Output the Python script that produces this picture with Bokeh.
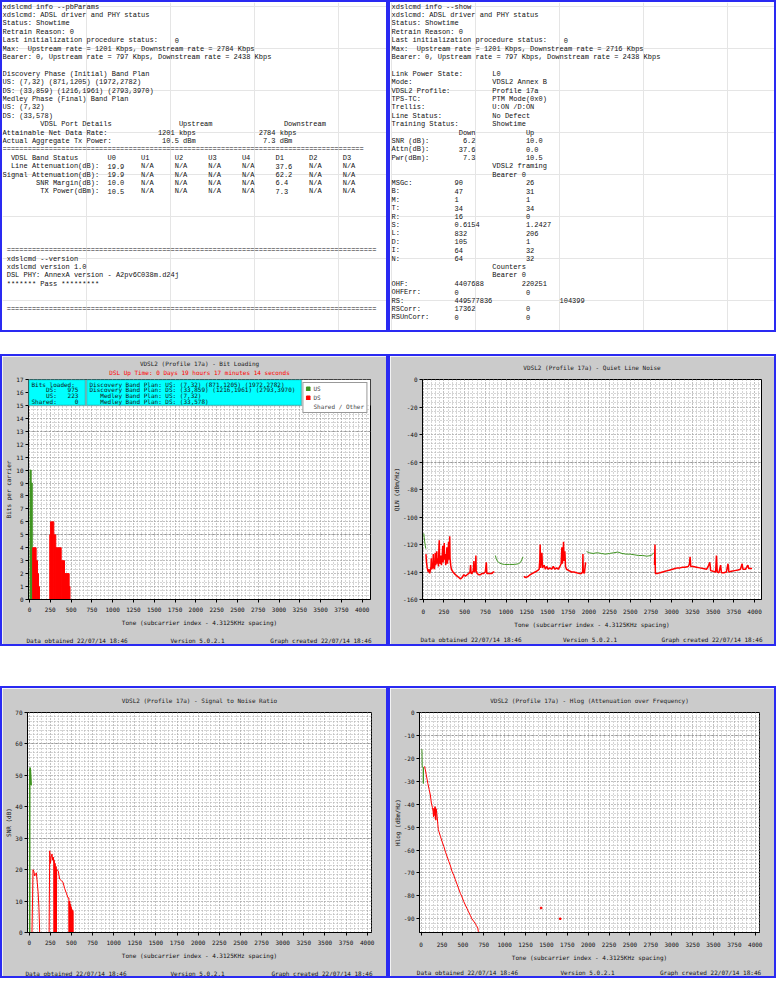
import re
from bokeh.plotting import figure
from bokeh.models import (Range1d, SingleIntervalTicker, PrintfTickFormatter, Legend, Title,
                          LegendItem, BoxAnnotation, Grid, FixedTicker, Spacer, LinearAxis, Label)
from bokeh.layouts import column, row
from bokeh.embed import file_html
from bokeh.resources import INLINE
from bokeh.core.properties import value

NaN = float("nan")
MONO = "DejaVu Sans Mono"
TMONO = "Liberation Mono"
GRAY = "#cbcbcb"
BLUE = "#2a2af2"
RED = "#ff0000"
GREEN = "#3f9420"
GRIDC = "#aaaaaa"
MCW = 3.61


def at(*pairs):
    s = ""
    for col, txt in pairs:
        s = s.ljust(col) + txt
    return s


# ---------------- text panels ----------------
pb_lines = [
    "xdslcmd info --pbParams",
    "xdslcmd: ADSL driver and PHY status",
    "Status: Showtime",
    "Retrain Reason: 0",
    "Last initialization procedure status:    0",
    "Max:  Upstream rate = 1201 Kbps, Downstream rate = 2784 Kbps",
    "Bearer: 0, Upstream rate = 797 Kbps, Downstream rate = 2438 Kbps",
    "",
    "Discovery Phase (Initial) Band Plan",
    "US: (7,32) (871,1205) (1972,2782)",
    "DS: (33,859) (1216,1961) (2793,3970)",
    "Medley Phase (Final) Band Plan",
    "US: (7,32)",
    "DS: (33,578)",
    at((9, "VDSL Port Details"), (42, "Upstream"), (67, "Downstream")),
    at((0, "Attainable Net Data Rate:"), (37, "1201 kbps"), (61, "2784 kbps")),
    at((0, "Actual Aggregate Tx Power:"), (38, "10.5 dBm"), (62, "7.3 dBm")),
    "=" * 86,
    at((2, "VDSL Band Status"), (25, "U0"), (33, "U1"), (41, "U2"), (49, "U3"), (57, "U4"),
       (65, "D1"), (73, "D2"), (81, "D3")),
    at((2, "Line Attenuation(dB):"), (25, "19.9"), (33, "N/A"), (41, "N/A"), (49, "N/A"),
       (57, "N/A"), (65, "37.6"), (73, "N/A"), (81, "N/A")),
    at((0, "Signal Attenuation(dB):"), (25, "19.9"), (33, "N/A"), (41, "N/A"), (49, "N/A"),
       (57, "N/A"), (65, "62.2"), (73, "N/A"), (81, "N/A")),
    at((8, "SNR Margin(dB):"), (25, "10.0"), (33, "N/A"), (41, "N/A"), (49, "N/A"),
       (57, "N/A"), (65, "6.4"), (73, "N/A"), (81, "N/A")),
    at((9, "TX Power(dBm):"), (25, "10.5"), (33, "N/A"), (41, "N/A"), (49, "N/A"),
       (57, "N/A"), (65, "7.3"), (73, "N/A"), (81, "N/A")),
    "", "", "", "", "", "",
    at((1, "=" * 88)),
    at((1, "xdslcmd --version")),
    at((1, "xdslcmd version 1.0")),
    at((1, "DSL PHY: AnnexA version - A2pv6C038m.d24j")),
    at((1, "******* Pass *********")),
    "", "",
    at((1, "=" * 88)),
]

show_lines = [
    "xdslcmd info --show",
    "xdslcmd: ADSL driver and PHY status",
    "Status: Showtime",
    "Retrain Reason: 0",
    "Last initialization procedure status:    0",
    "Max:  Upstream rate = 1201 Kbps, Downstream rate = 2716 Kbps",
    "Bearer: 0, Upstream rate = 797 Kbps, Downstream rate = 2438 Kbps",
    "",
    at((0, "Link Power State:"), (24, "L0")),
    at((0, "Mode:"), (24, "VDSL2 Annex B")),
    at((0, "VDSL2 Profile:"), (24, "Profile 17a")),
    at((0, "TPS-TC:"), (24, "PTM Mode(0x0)")),
    at((0, "Trellis:"), (24, "U:ON /D:ON")),
    at((0, "Line Status:"), (24, "No Defect")),
    at((0, "Training Status:"), (24, "Showtime")),
    at((16, "Down"), (32, "Up")),
    at((0, "SNR (dB):"), (17, "6.2"), (32, "10.0")),
    at((0, "Attn(dB):"), (16, "37.6"), (32, "0.0")),
    at((0, "Pwr(dBm):"), (17, "7.3"), (32, "10.5")),
    at((24, "VDSL2 framing")),
    at((24, "Bearer 0")),
    at((0, "MSGc:"), (15, "90"), (32, "26")),
    at((0, "B:"), (15, "47"), (32, "31")),
    at((0, "M:"), (15, "1"), (32, "1")),
    at((0, "T:"), (15, "34"), (32, "34")),
    at((0, "R:"), (15, "16"), (32, "0")),
    at((0, "S:"), (15, "0.6154"), (32, "1.2427")),
    at((0, "L:"), (15, "832"), (32, "206")),
    at((0, "D:"), (15, "105"), (32, "1")),
    at((0, "I:"), (15, "64"), (32, "32")),
    at((0, "N:"), (15, "64"), (32, "32")),
    at((24, "Counters")),
    at((24, "Bearer 0")),
    at((0, "OHF:"), (15, "4407688"), (31, "220251")),
    at((0, "OHFErr:"), (15, "0"), (32, "0")),
    at((0, "RS:"), (15, "449577836"), (40, "104399")),
    at((0, "RSCorr:"), (15, "17362"), (32, "0")),
    at((0, "RSUnCorr:"), (15, "0"), (32, "0")),
]

# ---------------- chart texts ----------------
profile = "VDSL2 (Profile 17a)"
uptime = "DSL Up Time: 0 Days 19 hours 17 minutes 14 seconds"
x_title = "Tone (subcarrier index - 4.3125KHz spacing)"
footer_left = "Data obtained 22/07/14 18:46"
footer_mid = "Version 5.0.2.1"
footer_right = "Graph created 22/07/14 18:46"
bits_loaded_lines = ["Bits loaded:", "    DS:   975", "    US:   223", "Shared:     0"]
band_plan_lines = [
    "Discovery Band Plan: US: (7,32) (871,1205) (1972,2782)",
    "Discovery Band Plan: DS: (33,859) (1216,1961) (2793,3970)",
    "   Medley Band Plan: US: (7,32)",
    "   Medley Band Plan: DS: (33,578)",
]
legend_labels = ["US", "DS", "Shared / Other"]

# ---------------- bit loading ----------------
bl_us_start = [7, 20]
bl_us_end = [20, 33]
bl_us_bits = [10, 9]
bl_ds_start = [38, 80, 96, 108, 244, 252, 292, 316, 381, 421, 477]
bl_ds_end = [80, 96, 108, 120, 252, 292, 316, 381, 421, 477, 487]
bl_ds_bits = [4, 3, 2, 1, 5, 6, 5, 4, 3, 2, 1]

# ---------------- quiet line noise ----------------
qln_us_tones = [7, 12, 18, 25, 32, NaN,
                871, 880, 895, 910, 940, 980, 1040, 1100, 1150, 1175, 1190, 1205, NaN,
                1972, 2000, 2050, 2100, 2150, 2200, 2250, 2300, 2350, 2400, 2450, 2500,
                2550, 2600, 2650, 2700, 2750, 2770, 2782]
qln_us_db = [-112, -115, -118, -121, -123, NaN,
             -128, -130, -132, -133, -134, -134.5, -134.5, -134.5, -134, -133, -131, -129, NaN,
             -125, -126, -126.5, -126, -126.5, -127, -126.5, -126, -125.5, -126.5, -127, -127,
             -127.5, -128, -128, -128.5, -128, -127, -126]
qln_ds_tones = [33, 40, 48, 56, 64, 72, 78, 86, 94, 98, 102, 110, 118, 122, 126, 134, 142, 146,
                150, 158, 164, 168, 176, 184, 190, 194, 198, 206, 214, 220, 228, 236, 240, 248,
                254, 258, 266, 272, 280, 286, 292, 300, 306, 310, 316, 320, 324, 332, 340, 350,
                360, 375, 390, 410, 430, 450, 470, 490, 510, 530, 550, 565, 572, 578, 590, 605,
                612, 618, 630, 636, 640, 650, 670, 690, 710, 730, 750, 762, 768, 790, 810, 830,
                845, 859, NaN,
                1216, 1230, 1260, 1290, 1320, 1350, 1380, 1400, 1408, 1412, 1416, 1425, 1433,
                1440, 1460, 1475, 1490, 1510, 1530, 1550, 1570, 1590, 1610, 1630, 1650, 1665,
                1674, 1680, 1688, 1694, 1700, 1710, 1718, 1730, 1760, 1790, 1820, 1850, 1880,
                1910, 1925, 1928, 1932, 1945, 1961, NaN,
                2793, 2798, 2803, 2830, 2860, 2890, 2920, 2950, 2980, 3010, 3040, 3070, 3100,
                3130, 3160, 3200, 3215, 3222, 3230, 3260, 3300, 3340, 3380, 3420, 3440, 3460,
                3470, 3500, 3530, 3540, 3550, 3570, 3590, 3600, 3630, 3660, 3680, 3690, 3720,
                3760, 3800, 3830, 3850, 3860, 3890, 3920, 3930, 3950, 3970]
qln_ds_db = [-127, -133, -137, -139, -140, -138, -141, -139, -136, -130, -138, -137, -134, -127,
             -136, -138, -133, -126, -135, -132, -125, -134, -130, -136, -122, -117, -132, -134,
             -128, -135, -130, -121, -133, -129, -119, -131, -127, -135, -129, -122, -134, -128,
             -118, -131, -126, -114, -130, -135, -138, -139, -140, -141, -142, -143, -144, -145,
             -144, -142, -143, -142, -141, -140, -135, -141, -141, -139, -132, -140, -139, -128,
             -139, -141, -142, -142, -141, -141, -140, -133, -141, -141, -141, -141, -140, -140,
             NaN,
             -143, -144, -143.5, -142, -141, -140, -139, -138, -131, -120, -137, -132, -126,
             -137, -135, -138, -136, -138, -137, -138, -136, -138, -137, -138, -136, -134, -122,
             -134, -128, -118, -132, -125, -136, -138, -139, -140, -140, -140.5, -141, -141,
             -140, -127, -140, -141, -133, NaN,
             -135, -120, -141, -141, -140.5, -140, -139.5, -139, -138.5, -138, -137.5, -137,
             -137, -136.5, -136.5, -136, -134, -129, -136, -136, -136.5, -137, -137.5, -138,
             -136, -133, -139, -139.5, -140, -128, -140, -140.5, -135, -140.5, -140.5, -140,
             -134, -140, -139.5, -139, -138.5, -138, -134, -138, -138, -135, -137.5, -137.5,
             -137.5]

# ---------------- SNR ----------------
snr_us_tones = [6, 7, 12, 18, 24, 32]
snr_us_db = [0, 52, 52.5, 50, 47, 47]
snr_ds_tones = [33, 40, 45, 55, 65, 75, 85, 95, 105, 115, 121, 124, NaN,
                236, 238, 243, 252, 260, 270, 278, 285, 292, 294, 296, 299, 302, 304, 307, 310,
                313, 316, 319, 322, 325, 330, 345, 360, 380, 400, 420, 440, 460, 470, 472, 474,
                477, 480, 483, 486, 489, 492, 495, 498, 501, 504, 507, 510, 513, 516, 519, 521]
snr_ds_db = [0, 11, 20, 19.5, 18, 18.5, 19, 16, 13, 8, 3, 0, NaN,
             0, 9, 26, 22, 24, 25, 23, 24, 22, 0, 23, 0, 21, 0, 22, 0,
             20, 0, 21, 0, 20, 20, 19.5, 17, 16.5, 16, 14, 12.5, 11, 11, 0, 10,
             0, 10, 0, 9, 0, 8.5, 0, 8, 0, 7.5, 0, 7, 0, 7, 6.5, 0]

# ---------------- Hlog ----------------
hlog_us_tones = [7, 10, 12, 16, 20, 24, 26, 28, 32]
hlog_us_db = [-16, -17, -23.5, -23.5, -24, -24, -31, -24, -24]
hlog_ds_tones = [40, 50, 60, 70, 80, 95, 110, 122, 135, 142, 148, 152, 156, 160, 166, 170, 172,
                 176, 180, 186, 193, 200, 205, 213, 230, 252, 272, 292, 312, 331, 351, 371, 390,
                 410, 430, 450, 470, 489, 510, 529, 548, 568, 588, 607, 627, 647, 662, 678, 684,
                 690, 700, 726]
hlog_ds_db = [-23.5, -25, -27, -29, -31, -33.5, -36, -39.5, -41.5, -43, -45.5, -41.8, -45, -42,
              -41, -46.5, -41.5, -47, -42, -44, -46, -49, -51, -52, -54, -56.5, -58.5, -61, -63,
              -65, -67, -69.5, -71, -73, -75, -77, -79, -80.5, -82.5, -84, -85.5, -87, -88.5,
              -90, -91, -92, -93, -94, -95.5, -96, -96, -96]
hlog_dot_tones = [1436, 1665]
hlog_dot_db = [-85.3, -90]


# ---------------- builders ----------------
CW, LH = 4.2, 8.4
BORDER = {"border": f"2px solid {BLUE}"}


def text_panel(lines, w, h, x0, y0):
    p = figure(width=w, height=h, x_range=Range1d(-x0 / CW, (w - x0) / CW),
               y_range=Range1d((h - y0) / LH, -y0 / LH), output_backend="svg",
               toolbar_location=None, x_axis_location=None, y_axis_location=None,
               title_location=None, min_border=0, background_fill_color="white",
               border_fill_color="white", outline_line_color=None, styles=BORDER)
    xs, ys, ts = [], [], []
    for i, line in enumerate(lines):
        for m in re.finditer(r"\S+(?: \S+)*", line):
            xs.append(m.start())
            ys.append(i)
            ts.append(m.group())
    p.text(x=xs, y=ys, text=ts, text_font=value(TMONO), text_font_size="7px",
           text_color="#111111", text_baseline="middle", text_align="left")
    return p


def title(text, color="#202020", size="6px"):
    return Title(text=text, align="center", text_font=MONO, text_font_size=size,
                 text_font_style="normal", text_color=color, standoff=0)


def chart(w, h, l, r, t, b, xr, yr, yint, yminor, ylabel, ylab_so, xlab_so, foot_so, heavy,
          titles):
    fw = w - l - r
    p = figure(width=w, height=h, x_range=Range1d(*xr), y_range=Range1d(*yr),
               output_backend="svg", toolbar_location=None, title_location=None,
               min_border_left=l - 2, min_border_right=r + 2,
               min_border_top=t - 2, min_border_bottom=b + 2,
               border_fill_color=GRAY, background_fill_color="white",
               outline_line_color="black", outline_line_width=1, styles=BORDER)
    p.xaxis.ticker = SingleIntervalTicker(interval=250, num_minor_ticks=5)
    p.yaxis.ticker = SingleIntervalTicker(interval=yint, num_minor_ticks=yminor)
    p.xaxis.formatter = PrintfTickFormatter(format="%d")
    p.yaxis.formatter = PrintfTickFormatter(format="%d")
    for ax in (p.xaxis[0], p.yaxis[0]):
        ax.axis_line_color = "black"
        ax.major_tick_line_color = "black"
        ax.major_tick_in = 0
        ax.major_tick_out = 3
        ax.minor_tick_line_color = None
        ax.major_label_text_font = MONO
        ax.major_label_text_font_size = "6px"
        ax.major_label_text_color = "#111111"
        ax.axis_label_text_font = MONO
        ax.axis_label_text_font_size = "6px"
        ax.axis_label_text_font_style = "normal"
        ax.axis_label_text_color = "#111111"
    p.xaxis.major_label_standoff = xlab_so
    p.xaxis.axis_label_standoff = 4
    p.yaxis.major_label_standoff = 1
    p.yaxis.axis_label_standoff = ylab_so
    p.xaxis.axis_label = x_title
    p.yaxis.axis_label = ylabel
    for g in (p.xgrid[0], p.ygrid[0]):
        g.grid_line_color = GRIDC
        g.grid_line_dash = "1 2"
        g.minor_grid_line_color = GRIDC
        g.minor_grid_line_dash = "1 2"
    p.add_layout(Grid(dimension=1, ticker=FixedTicker(ticks=heavy),
                      grid_line_color="#999999", grid_line_dash="2 2"))
    for ttl in titles:
        p.add_layout(ttl, "above")
    # footer line as a label-only axis
    tpp = (xr[1] - xr[0]) / fw
    half = len(footer_left) * MCW / 2
    t_left = int(round(xr[0] + (-2 + half) * tpp))
    t_mid = int(round((xr[0] + xr[1]) / 2 - 2 * tpp))
    t_right = int(round(xr[0] + (fw + 1 - half) * tpp))
    fax = LinearAxis(ticker=FixedTicker(ticks=[t_left, t_mid, t_right]),
                     major_label_overrides={t_left: footer_left, t_mid: footer_mid,
                                            t_right: footer_right},
                     axis_line_color=None, major_tick_line_color=None,
                     minor_tick_line_color=None, major_tick_in=0, major_tick_out=0,
                     minor_tick_in=0, minor_tick_out=0, major_label_standoff=foot_so,
                     major_label_text_font=MONO, major_label_text_font_size="6px",
                     major_label_text_color="#111111")
    p.add_layout(fax, "below")
    return p


def titled(text):
    # a blank line keeps the title clear of the plot frame
    return [title(" "), title(text)]


# ---------------- top text panels ----------------
tl = text_panel(pb_lines, 388, 332, 0, 4)
tr = text_panel(show_lines, 388, 332, 1, 4)

# ---------------- bit loading ----------------
BIT_XR = (-12, 4100)
bit = chart(388, 292, 28, 18, 25, 43, BIT_XR, (0, 17), 1, 3, "Bits per carrier", 1, 3, 8,
            [5, 13], [title(" ", size="2px"), title(uptime, RED),
                      title(profile + " - Bit Loading")])
r_us = bit.quad(left=bl_us_start, right=bl_us_end, bottom=0, top=bl_us_bits,
                fill_color=GREEN, line_color=GREEN)
r_ds = bit.quad(left=bl_ds_start, right=bl_ds_end, bottom=0, top=bl_ds_bits,
                fill_color=RED, line_color=RED)
r_sh = bit.quad(left=[], right=[], bottom=[], top=[], fill_color="#0000ff", line_color="#0000ff")

tpp_bit = (BIT_XR[1] - BIT_XR[0]) / (388 - 28 - 18)
bit.add_layout(BoxAnnotation(left=BIT_XR[0], right=BIT_XR[1], bottom=15, top=17,
                             fill_color="white", fill_alpha=1, line_color=None))
bit.add_layout(BoxAnnotation(left=BIT_XR[0], right=BIT_XR[0] + 57 * tpp_bit, bottom=15, top=17,
                             fill_color="#00ffff", fill_alpha=1, line_color="#333333",
                             line_width=1.5))
bit.add_layout(BoxAnnotation(left=BIT_XR[0] + 58 * tpp_bit, right=BIT_XR[0] + 273 * tpp_bit,
                             bottom=15, top=17, fill_color="#00ffff", fill_alpha=1,
                             line_color="#333333", line_width=1.5))
for x_px, lines in ((3, bits_loaded_lines), (61, band_plan_lines)):
    for i, line in enumerate(lines):
        for m in re.finditer(r"\S+(?: \S+)*", line):
            bit.add_layout(Label(x=BIT_XR[0], y=17, x_offset=x_px + m.start() * MCW,
                                 y_offset=-(4.5 + 5.8 * i), text=m.group(),
                                 text_baseline="middle", text_font=MONO,
                                 text_font_size="6px", text_color="#111111"))

legend = Legend(items=[LegendItem(label=legend_labels[0], renderers=[r_us]),
                       LegendItem(label=legend_labels[1], renderers=[r_ds]),
                       LegendItem(label=legend_labels[2], renderers=[r_sh])],
                location="top_right", margin=3, padding=2, spacing=2,
                label_text_font=MONO, label_text_font_size="6px", label_height=6,
                label_standoff=3, glyph_width=5, glyph_height=5,
                border_line_color="#333333", background_fill_color="white",
                background_fill_alpha=1)
bit.add_layout(legend)

# ---------------- QLN ----------------
qln = chart(388, 292, 34, 15, 25, 47, (-8.5, 4084), (-160, 0), 20, 6, "QLN (dBm/Hz)", 0, 5, 5,
            [-60, -140], titled(profile + " - Quiet Line Noise"))
qln.line(qln_us_tones, qln_us_db, color=GREEN, line_width=1)
qln.line(qln_ds_tones, qln_ds_db, color=RED, line_width=1.5)

# ---------------- SNR ----------------
snr = chart(388, 292, 27, 17, 26, 42, (-20, 4051), (0, 70), 10, 7, "SNR (dB)", 0, 3, 8,
            [30, 60], titled(profile + " - Signal to Noise Ratio"))
snr.line(snr_us_tones, snr_us_db, color=GREEN, line_width=1.5)
snr.line(snr_ds_tones, snr_ds_db, color=RED, line_width=1)

# ---------------- Hlog ----------------
hlog = chart(388, 292, 27, 17, 26, 46, (-20, 4051), (-96, 0), 10, 5, "Hlog (dBm/Hz)", 0, 5, 5,
             [-10], titled(profile + " - Hlog (Attenuation over Frequency)"))
hlog.line(hlog_us_tones, hlog_us_db, color=GREEN, line_width=1)
hlog.line(hlog_ds_tones, hlog_ds_db, color=RED, line_width=1)
hlog.scatter(hlog_dot_tones, hlog_dot_db, marker="square", size=1.5, color=RED)

layout = column(row(tl, tr), Spacer(width=776, height=22), row(bit, qln),
                Spacer(width=776, height=40), row(snr, hlog))

open("out.html", "w").write(file_html(layout, INLINE))
